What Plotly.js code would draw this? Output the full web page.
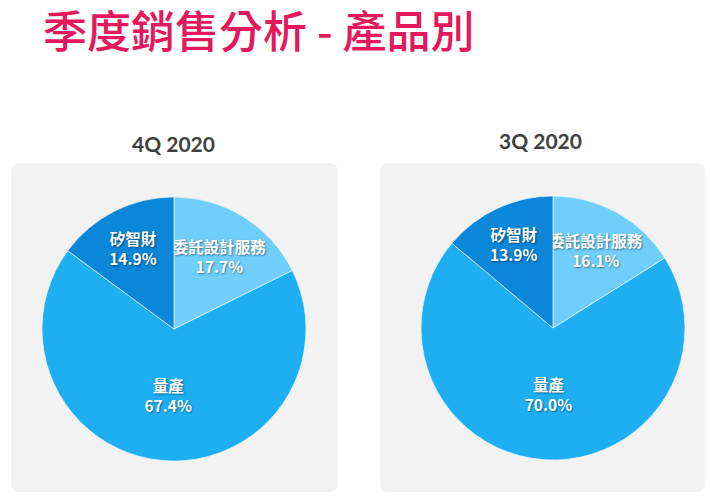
<!DOCTYPE html>
<html><head><meta charset="utf-8">
<script src="https://cdn.plot.ly/plotly-3.0.1.min.js"></script>
<style>html,body{margin:0;padding:0;background:#fff}#chart{width:710px;height:496px}</style>
</head><body><div id="chart"></div>
<script>
const pageTitle = "季度銷售分析 - 產品別";
const categories = ["委託設計服務", "量產", "矽智財"];
const quarterNames = ["4Q 2020", "3Q 2020"];
const values4Q = [17.7, 67.4, 14.9];
const values3Q = [16.1, 70.0, 13.9];
const sliceColors = ["#6FCFFA", "#1EAFF3", "#0B86D9"];

const W = 710, H = 496;
function px(x){return x / W;}
function py(y){return 1 - y / H;}
function roundRect(x0, y0, x1, y1, r){
  const X0=px(x0), X1=px(x1), Y0=py(y0), Y1=py(y1);
  const rx = r / W, ry = r / H;
  return `M${X0+rx},${Y0} L${X1-rx},${Y0} Q${X1},${Y0} ${X1},${Y0-ry} L${X1},${Y1+ry} Q${X1},${Y1} ${X1-rx},${Y1} L${X0+rx},${Y1} Q${X0},${Y1} ${X0},${Y1+ry} L${X0},${Y0-ry} Q${X0},${Y0} ${X0+rx},${Y0} Z`;
}

const pieCommon = {
  type: "pie",
  labels: categories,
  sort: false,
  direction: "clockwise",
  rotation: 0,
  marker: {colors: sliceColors, line: {color: "rgba(255,255,255,0.6)", width: 1}},
  texttemplate: "%{label}<br>%{value:.1f}%",
  textposition: "inside",
  insidetextorientation: "horizontal",
  insidetextfont: {family: "Noto Sans CJK TC", size: 15.5, color: "#ffffff", weight: 700, shadow: "1px 1px 2px rgba(0,0,0,0.45)"},
  hoverinfo: "label+percent",
  showlegend: false
};

const data = [
  Object.assign({}, pieCommon, {values: values4Q, name: quarterNames[0],
    domain: {x: [px(42), px(306)], y: [py(461), py(197)]}}),
  Object.assign({}, pieCommon, {values: values3Q, name: quarterNames[1],
    domain: {x: [px(421), px(685)], y: [py(460), py(196)]}})
];

const layout = {
  width: W, height: H,
  margin: {l: 0, r: 0, t: 0, b: 0},
  paper_bgcolor: "#ffffff",
  uniformtext: {mode: "show", minsize: 15.5},
  title: {text: pageTitle, x: px(43), xanchor: "left", y: py(33), yanchor: "middle", yref: "paper",
    font: {family: "Noto Sans CJK TC", size: 44, color: "#E5185D", weight: 500}},
  shapes: [
    {type: "path", xref: "paper", yref: "paper", path: roundRect(11, 163, 338, 492, 9), fillcolor: "#F2F2F2", line: {width: 0}, layer: "below"},
    {type: "path", xref: "paper", yref: "paper", path: roundRect(380, 163, 705, 492, 9), fillcolor: "#F2F2F2", line: {width: 0}, layer: "below"}
  ],
  annotations: [
    {text: quarterNames[0], xref: "paper", yref: "paper", x: px(173), y: py(143), xanchor: "center", yanchor: "middle", showarrow: false,
      font: {family: "Lato", size: 21, color: "#404040", weight: 700}},
    {text: quarterNames[1], xref: "paper", yref: "paper", x: px(540), y: py(140), xanchor: "center", yanchor: "middle", showarrow: false,
      font: {family: "Lato", size: 21, color: "#404040", weight: 700}}
  ]
};

Plotly.newPlot("chart", data, layout, {displayModeBar: false, staticPlot: true});
</script></body></html>
